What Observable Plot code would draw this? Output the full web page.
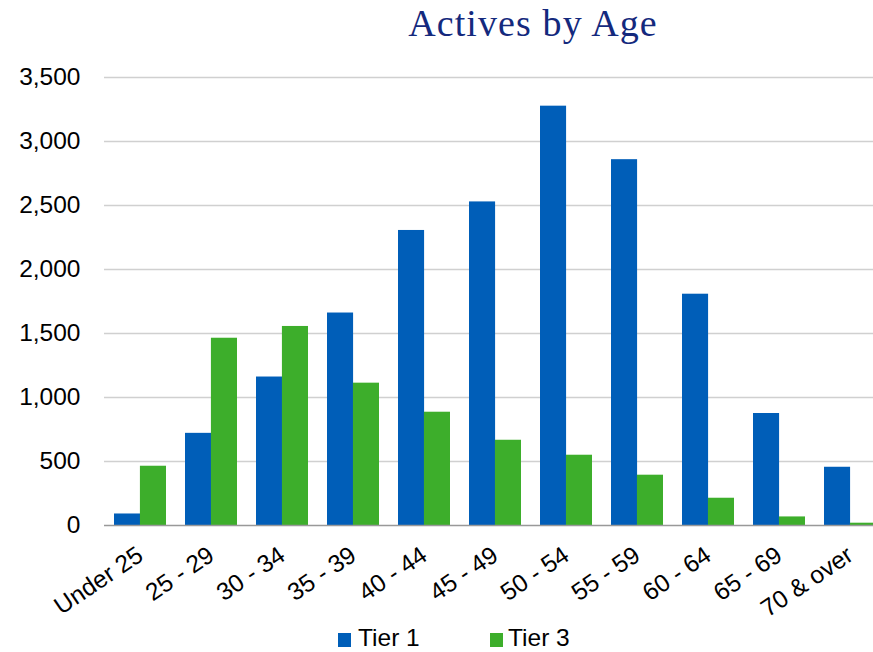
<!DOCTYPE html>
<html>
<head>
<meta charset="utf-8">
<script src="https://cdn.jsdelivr.net/npm/d3@7"></script>
<script src="https://cdn.jsdelivr.net/npm/@observablehq/plot@0.6"></script>
<style>
  body { margin: 0; background: #fff; font-family: "Liberation Sans", Arial, sans-serif; }
  #wrap { position: relative; width: 873px; height: 652px; overflow: hidden; }
  #title { position: absolute; left: 0; top: 0; width: 873px; height: 60px; }
  #title span { position: absolute; left: 533px; top: 1px; transform: translateX(-50%);
    font-family: "Liberation Serif", "DejaVu Serif", serif; font-size: 38px; letter-spacing: 1.1px; color: #14297d; white-space: nowrap; }
  #chart { position: absolute; left: 0; top: 60px; }
  #legend { position: absolute; left: 0; top: 622px; width: 873px; height: 30px; font-size: 24.5px; color: #000; }
  .sw { position: absolute; width: 13px; height: 14px; top: 11px; }
  .lt { position: absolute; top: 2px; line-height: 28px; }
</style>
</head>
<body>
<div id="wrap">
  <div id="title"><span>Actives by Age</span></div>
  <div id="chart"></div>
  <div id="legend"></div>
</div>
<script>
const ages = ["Under 25", "25 - 29", "30 - 34", "35 - 39", "40 - 44", "45 - 49", "50 - 54", "55 - 59", "60 - 64", "65 - 69", "70 & over"];
const tier1 = [90, 720, 1160, 1660, 2305, 2528, 3276, 2858, 1807, 875, 455];
const tier3 = [463, 1463, 1555, 1112, 885, 666, 549, 393, 213, 67, 18];
const seriesNames = ["Tier 1", "Tier 3"];
const colors = ["#005eb8", "#3dae2b"];
const yTicks = [0, 500, 1000, 1500, 2000, 2500, 3000, 3500];

const data = ages.flatMap((a, i) => [
  {age: a, tier: seriesNames[0], value: tier1[i]},
  {age: a, tier: seriesNames[1], value: tier3[i]}
]);

const W = 873, H = 560;
const xRange = [104, 885];
const pInner = 0.27, pOuter = 0.135;
const step = (xRange[1] - xRange[0]) / (ages.length - pInner + 2 * pOuter);
const bw = step * (1 - pInner);
const half = bw / 2;

const chart = Plot.plot({
  width: W,
  height: H,
  marginLeft: 104,
  marginRight: 0,
  marginTop: 17,
  marginBottom: 95,
  style: {fontSize: "24.5px", fontFamily: "'Liberation Sans', Arial, sans-serif", color: "#000", background: "transparent"},
  x: {type: "band", domain: ages, range: xRange, paddingInner: pInner, paddingOuter: pOuter,
      tickSize: 0, tickPadding: 27, tickRotate: -34, label: null},
  y: {domain: [0, 3500], ticks: yTicks, tickFormat: d3.format(","), tickSize: 0, tickPadding: 24, label: null},
  color: {domain: seriesNames, range: colors},
  marks: [
    Plot.ruleY(yTicks.filter(v => v > 0), {stroke: "#d0d0d0", strokeWidth: 1.3}),
    Plot.barY(data.filter(d => d.tier === seriesNames[0]), {x: "age", y: "value", fill: "tier", insetRight: half}),
    Plot.barY(data.filter(d => d.tier === seriesNames[1]), {x: "age", y: "value", fill: "tier", insetLeft: half}),
    Plot.ruleY([0], {stroke: "#999", strokeWidth: 1.5})
  ]
});
document.getElementById("chart").appendChild(chart);

const legend = document.getElementById("legend");
const lpos = [[338, 358], [490, 508]];
seriesNames.forEach((s, i) => {
  const sw = document.createElement("div");
  sw.className = "sw"; sw.style.left = lpos[i][0] + "px"; sw.style.background = colors[i];
  const t = document.createElement("div");
  t.className = "lt"; t.style.left = lpos[i][1] + "px"; t.textContent = s;
  legend.appendChild(sw); legend.appendChild(t);
});
</script>
</body>
</html>
